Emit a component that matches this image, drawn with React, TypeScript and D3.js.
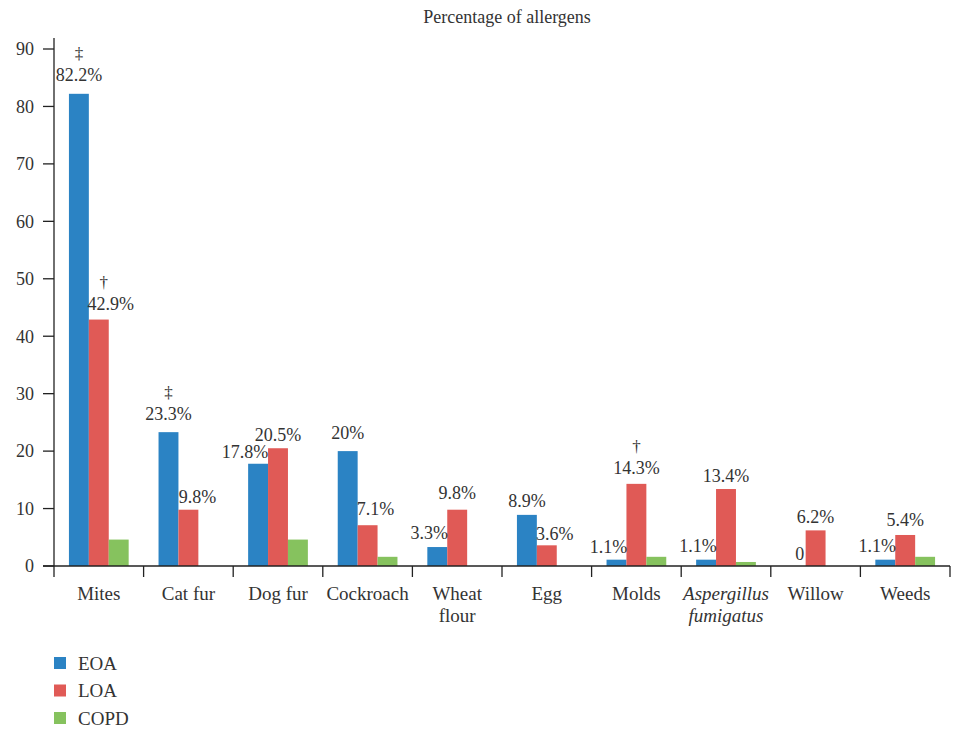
import { useEffect, useRef } from 'react';
import * as d3 from 'd3';

const categories = ['Mites', 'Cat fur', 'Dog fur', 'Cockroach', 'Wheat flour', 'Egg', 'Molds', 'Aspergillus fumigatus', 'Willow', 'Weeds'];
const seriesNames = ['EOA', 'LOA', 'COPD'];
const eoaValues = [82.2, 23.3, 17.8, 20, 3.3, 8.9, 1.1, 1.1, 0, 1.1];
const loaValues = [42.9, 9.8, 20.5, 7.1, 9.8, 3.6, 14.3, 13.4, 6.2, 5.4];
const copdValues = [4.6, 0, 4.6, 1.6, 0, 0, 1.6, 0.7, 0, 1.6];
const eoaLabels = ['82.2%', '23.3%', '17.8%', '20%', '3.3%', '8.9%', '1.1%', '1.1%', '0', '1.1%'];
const loaLabels = ['42.9%', '9.8%', '20.5%', '7.1%', '9.8%', '3.6%', '14.3%', '13.4%', '6.2%', '5.4%'];
const eoaMarks = ['‡', '‡', '', '', '', '', '', '', '', ''];
const loaMarks = ['†', '', '', '', '', '', '†', '', '', ''];
const yTicks = [0, 10, 20, 30, 40, 50, 60, 70, 80, 90];

// label nudges so the labels sit where the original put them
const eoaShift = [[0, -5], [0, -4], [-13, 2], [0, -4], [-8, 0], [0, 0], [-8, 1], [-8, 0], [4, 2], [-8, 0]];
const loaShift = [[12, -2], [9, 1], [0, 1], [8, -2], [0, -3], [8, 3], [0, -2], [0, 1], [0, 1], [0, -1]];

const colors = ['#2b83c4', '#e05a56', '#86c25e'];
const FONT = 'Liberation Serif';

export default function App() {
  const ref = useRef<SVGSVGElement>(null);

  useEffect(() => {
    if (!ref.current) return;
    const svg = d3.select(ref.current);
    svg.selectAll('*').remove();

    const x0 = d3.scaleBand().domain(categories).range([54, 950]).padding(0);
    const step = x0.bandwidth();
    const x1 = d3.scaleBand().domain(seriesNames).range([step / 6, (step * 5) / 6]).padding(0);
    const y = d3.scaleLinear().domain([0, 90]).range([566, 49]);

    const series = [eoaValues, loaValues, copdValues];

    svg.append('text')
      .attr('x', 507).attr('y', 23)
      .attr('text-anchor', 'middle')
      .attr('font-family', FONT).attr('font-size', 18).attr('fill', '#333')
      .text('Percentage of allergens');

    // bars
    series.forEach((vals, si) => {
      svg.append('g').selectAll('rect')
        .data(vals)
        .join('rect')
        .attr('x', (_, i) => (x0(categories[i]) as number) + (x1(seriesNames[si]) as number))
        .attr('width', x1.bandwidth())
        .attr('y', d => y(d))
        .attr('height', d => y(0) - y(d))
        .attr('fill', colors[si]);
    });

    // y axis
    const yAxis = svg.append('g').attr('font-family', FONT).attr('font-size', 18);
    yAxis.append('line').attr('x1', 54).attr('x2', 54).attr('y1', 38).attr('y2', 566).attr('stroke', '#222').attr('stroke-width', 1.3);
    yTicks.forEach(t => {
      yAxis.append('line').attr('x1', 43).attr('x2', 54).attr('y1', y(t)).attr('y2', y(t)).attr('stroke', '#222').attr('stroke-width', 1.3);
      yAxis.append('text').attr('x', 34).attr('y', y(t)).attr('dy', '0.35em')
        .attr('text-anchor', 'end').attr('fill', '#333').text(t);
    });

    // x axis
    const xAxis = svg.append('g').attr('font-family', FONT).attr('font-size', 19);
    xAxis.append('line').attr('x1', 43).attr('x2', 950).attr('y1', 566).attr('y2', 566).attr('stroke', '#222').attr('stroke-width', 1.3);
    const bounds = categories.map(c => x0(c) as number).concat([950]);
    bounds.forEach(b => {
      xAxis.append('line').attr('x1', b).attr('x2', b).attr('y1', 566).attr('y2', 577).attr('stroke', '#222').attr('stroke-width', 1.3);
    });
    categories.forEach(c => {
      const cx = (x0(c) as number) + step / 2;
      const italic = c === 'Aspergillus fumigatus';
      const lines = c.includes(' ') && c !== 'Cat fur' && c !== 'Dog fur' ? c.split(' ') : [c];
      const t = xAxis.append('text').attr('x', cx).attr('y', 600).attr('text-anchor', 'middle')
        .attr('fill', '#333').attr('font-style', italic ? 'italic' : 'normal');
      lines.forEach((l, li) => {
        t.append('tspan').attr('x', cx).attr('y', 600 + li * 22).text(l);
      });
    });

    // value labels
    const labelG = svg.append('g').attr('font-family', FONT).attr('font-size', 18).attr('fill', '#333');
    const drawLabels = (vals: number[], labels: string[], marks: string[], shifts: number[][], si: number) => {
      vals.forEach((v, i) => {
        const bx = (x0(categories[i]) as number) + (x1(seriesNames[si]) as number) + x1.bandwidth() / 2;
        const lx = bx + shifts[i][0];
        const ly = y(v) - 8 + shifts[i][1];
        labelG.append('text').attr('x', lx).attr('y', ly).attr('text-anchor', 'middle').text(labels[i]);
        if (marks[i]) {
          labelG.append('text').attr('x', si === 1 && i === 0 ? lx - 7 : lx).attr('y', ly - 22)
            .attr('text-anchor', 'middle').attr('font-size', 17).text(marks[i]);
        }
      });
    };
    drawLabels(eoaValues, eoaLabels, eoaMarks, eoaShift, 0);
    drawLabels(loaValues, loaLabels, loaMarks, loaShift, 1);

    // legend
    const legend = svg.append('g').attr('font-family', FONT).attr('font-size', 19);
    seriesNames.forEach((s, i) => {
      const ly = 663 + i * 27.5;
      legend.append('rect').attr('x', 54).attr('y', ly - 6).attr('width', 12).attr('height', 12).attr('fill', colors[i]);
      legend.append('text').attr('x', 78).attr('y', ly).attr('dy', '0.35em').attr('fill', '#333').text(s);
    });
  }, []);

  return (
    <svg ref={ref} width={957} height={729}
      style={{ position: 'absolute', left: 0, top: 0, background: '#fff' }} />
  );
}
